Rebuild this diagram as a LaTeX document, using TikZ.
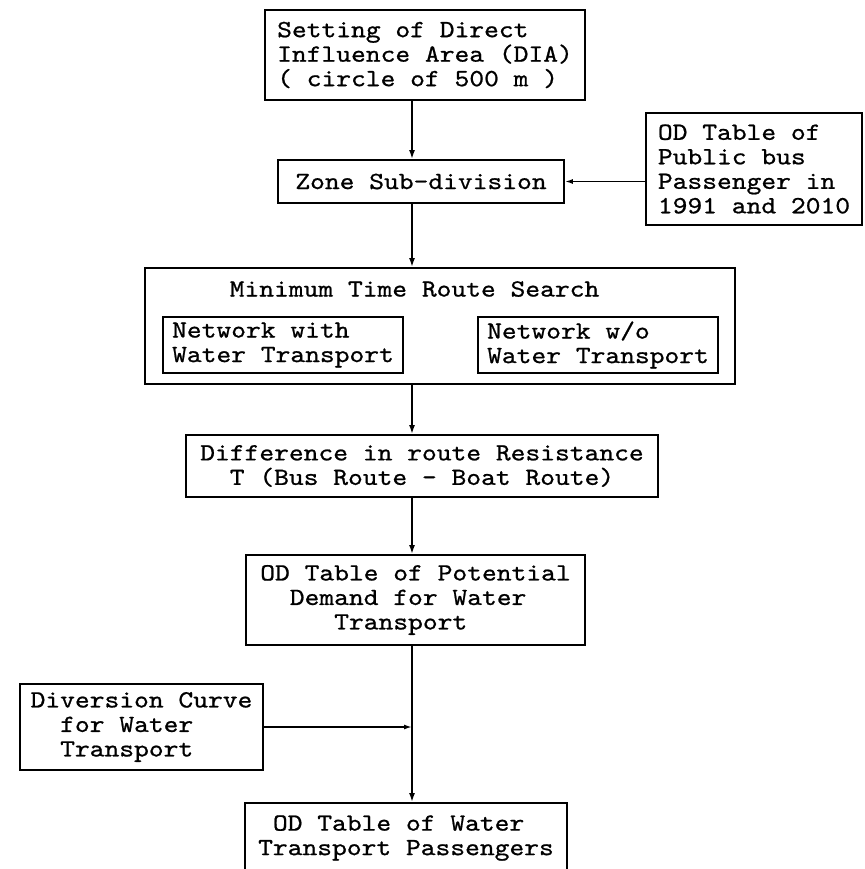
\documentclass[tikz,border=0pt]{standalone}
\usepackage{fontspec}
\setmonofont[FakeStretch=1.14,FakeBold=0.8]{lmmono10-regular.otf}
\usetikzlibrary{arrows.meta}
\newcommand{\boxfont}{\ttfamily\fontsize{24.7pt}{24.5pt}\selectfont}
\newcommand{\ind}[1]{\phantom{#1}}
\tikzset{
  flowbox/.style={draw,line width=1.8pt,inner sep=0pt,font=\boxfont},
  flowline/.style={line width=2.4pt,-{Latex[length=9pt,width=6pt]}},
  sideline/.style={line width=1.5pt,-{Latex[length=8pt,width=5pt]}}
}
\begin{document}
\begin{tikzpicture}[x=1pt,y=-1pt]
\clip (0,0) rectangle (864,869);
\coordinate (axis) at (412,0);
% drawing boxes
\node[flowbox,align=left,minimum width=320pt,minimum height=90pt] (dia) at (425,55)
  {Setting of Direct\\Influence Area (DIA)\\( circle of 500 m )};
\node[flowbox,minimum width=286pt,minimum height=43pt] (zone) at (421,181.5) {Zone Sub-division};
\node[flowbox,align=left,minimum width=216pt,minimum height=112pt] (odbus) at (754,169)
  {OD Table of\\Public bus\\Passenger in\\1991 and 2010};
\node[flowbox,minimum width=590pt,minimum height=116pt] (search) at (440,326) {};
\node[font=\boxfont,inner sep=0pt] (searchtitle) at (414.5,289) {Minimum Time Route Search};
\node[flowbox,align=left,minimum width=240pt,minimum height=56pt] (withwater) at (283,345)
  {Network with\\Water Transport};
\node[flowbox,align=left,minimum width=240pt,minimum height=56pt] (nowater) at (598,345)
  {Network w/o\\Water Transport};
\node[flowbox,align=center,minimum width=472pt,minimum height=62pt] (diff) at (422,466)
  {Difference in route Resistance\\T (Bus Route - Boat Route)};
\node[flowbox,align=left,minimum width=339pt,minimum height=90pt] (demand) at (415.5,600)
  {OD Table of Potential\\\ind{OD}Demand for Water\\\ind{OD Ta}Transport};
\node[flowbox,align=left,minimum width=243pt,minimum height=86pt] (diversion) at (141.5,727)
  {Diversion Curve\\\ind{Di}for Water\\\ind{Di}Transport};
\node[flowbox,align=left,minimum width=322pt,minimum height=70pt] (final) at (406,838)
  {\ind{T}OD Table of Water\\Transport Passengers};
% drawing arrows
\foreach \a/\b in {dia/zone,zone/search,search/diff,diff/demand,demand/final}{
  \draw[flowline] (\a.south -| axis) -- (\b.north -| axis);
}
\draw[sideline] (zone.east -| odbus.west) -- (zone.east);
\draw[sideline] (diversion.east) -- (diversion.east -| axis);
\end{tikzpicture}
\end{document}
